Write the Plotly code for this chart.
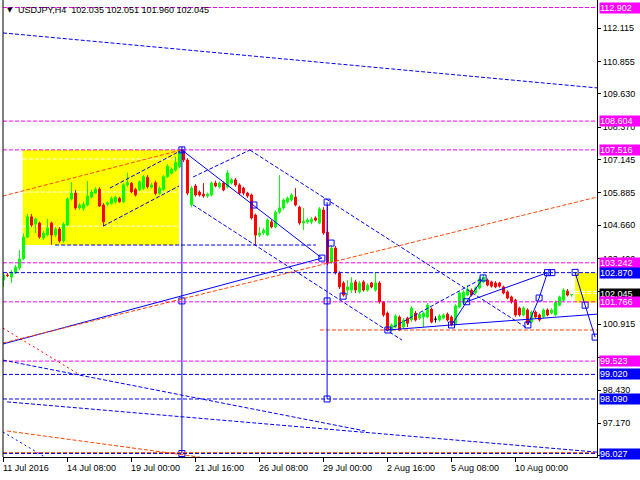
import plotly.graph_objects as go

# USDJPY H4 bars, 11 Jul 2016 16:00 .. 12 Aug 2016 08:00 (server time)
bar_open = [
    102.59, 102.78, 102.70, 102.86, 103.05, 103.39, 104.22, 104.98, 104.71, 104.75,
    104.18, 104.30, 104.75, 104.29, 104.52, 104.07, 104.67, 105.66, 105.88, 105.32,
    105.30, 105.43, 105.73, 105.88, 106.03, 105.43, 105.46, 105.49, 105.55, 105.68,
    105.55, 106.19, 106.25, 106.02, 106.00, 106.06, 106.48, 106.10, 106.27, 105.87,
    106.02, 106.50, 106.63, 106.75, 106.88, 107.45, 107.13, 105.43, 106.15, 105.92,
    105.84, 105.77, 105.81, 106.26, 106.11, 106.26, 106.11, 106.26, 106.38, 106.19,
    106.07, 105.88, 105.81, 105.05, 104.29, 104.37, 104.29, 104.79, 104.60, 105.16,
    105.32, 105.54, 105.62, 105.73, 105.35, 104.75, 104.79, 104.79, 104.94, 104.75,
    105.24, 104.40, 103.27, 103.80, 102.86, 102.48, 102.21, 102.21, 102.52, 102.14,
    102.52, 102.21, 102.48, 102.21, 102.48, 101.76, 101.34, 100.70, 100.81, 101.19,
    100.81, 101.15, 101.08, 101.34, 101.15, 101.19, 101.19, 101.49, 101.11, 101.08,
    101.15, 101.30, 101.19, 100.93, 101.57, 101.72, 102.02, 102.21, 102.10, 102.29,
    102.52, 102.59, 102.52, 102.48, 102.48, 102.33, 102.14, 101.95, 101.83, 101.53,
    101.27, 101.46, 101.00, 101.38, 101.27, 101.19, 101.46, 101.34, 101.27, 101.64,
    101.83, 102.17, 102.035,
]
bar_high = [
    102.86, 102.86, 102.97, 103.16, 103.73, 104.35, 105.10, 105.09, 104.95, 104.80,
    104.45, 104.90, 104.80, 104.60, 104.60, 104.78, 105.72, 106.30, 106.00, 105.50,
    105.55, 106.34, 106.00, 106.10, 106.10, 105.50, 105.56, 105.75, 105.78, 105.74,
    106.25, 106.65, 106.30, 106.08, 106.36, 106.56, 106.56, 106.27, 106.35, 106.14,
    106.56, 106.97, 106.85, 107.26, 107.50, 107.516, 107.20, 106.15, 106.22, 105.98,
    106.26, 105.90, 106.32, 106.35, 106.32, 106.32, 106.75, 106.45, 106.45, 106.25,
    106.12, 105.93, 105.86, 105.10, 104.60, 104.55, 104.92, 104.86, 105.22, 106.56,
    105.68, 105.75, 105.88, 106.07, 105.40, 105.31, 104.95, 104.98, 105.00, 105.35,
    105.35, 105.43, 103.90, 103.88, 102.92, 102.55, 102.59, 102.70, 102.60, 102.55,
    102.58, 102.47, 102.52, 102.89, 102.55, 101.80, 101.40, 100.95, 101.30, 101.25,
    101.15, 101.20, 101.60, 101.42, 101.36, 101.40, 101.72, 101.55, 101.22, 101.30,
    101.33, 101.36, 101.25, 101.68, 102.17, 102.20, 102.40, 102.27, 102.35, 102.70,
    102.82, 102.65, 102.57, 102.55, 102.52, 102.38, 102.20, 102.00, 101.88, 101.58,
    101.60, 101.52, 101.44, 101.44, 101.32, 101.52, 101.52, 101.52, 101.82, 102.00,
    102.28, 102.25, 102.051,
]
bar_low = [
    102.33, 102.70, 102.48, 102.82, 102.97, 103.35, 104.18, 104.60, 104.37, 104.15,
    104.10, 104.25, 103.92, 104.22, 104.00, 104.00, 104.63, 105.60, 105.25, 105.25,
    105.22, 105.38, 105.70, 105.85, 105.35, 104.63, 105.38, 105.44, 105.48, 105.52,
    105.50, 106.12, 105.88, 105.75, 105.95, 106.00, 106.05, 106.05, 105.80, 105.82,
    105.97, 106.45, 106.58, 106.70, 106.82, 107.05, 105.80, 105.35, 105.75, 105.75,
    105.70, 105.70, 105.75, 106.10, 106.05, 105.95, 106.05, 106.20, 106.12, 105.80,
    105.80, 105.70, 104.88, 103.92, 104.22, 104.30, 104.25, 104.55, 104.55, 105.10,
    105.25, 105.48, 105.56, 105.38, 104.68, 104.48, 104.72, 104.70, 104.80, 104.70,
    104.30, 103.15, 103.20, 102.80, 102.25, 101.96, 102.02, 102.10, 102.10, 102.08,
    102.15, 102.15, 102.28, 102.15, 101.70, 101.20, 100.65, 100.65, 100.77, 100.66,
    100.75, 100.81, 101.00, 101.02, 101.08, 100.81, 101.15, 100.95, 100.98, 101.02,
    101.10, 101.02, 100.84, 100.88, 101.52, 101.68, 101.98, 101.97, 102.05, 102.24,
    102.47, 102.35, 102.30, 102.28, 102.30, 102.05, 101.86, 101.70, 101.20, 101.21,
    101.22, 100.89, 100.95, 101.14, 101.02, 101.14, 101.22, 101.29, 101.22, 101.60,
    101.78, 101.97, 101.960,
]
bar_close = [
    102.78, 102.76, 102.86, 103.08, 103.39, 104.22, 104.98, 104.67, 104.90, 104.22,
    104.37, 104.56, 104.29, 104.52, 104.07, 104.71, 105.66, 105.88, 105.32, 105.43,
    105.46, 105.77, 105.92, 106.03, 105.39, 104.79, 105.51, 105.68, 105.72, 105.55,
    106.19, 106.27, 105.93, 105.81, 106.31, 106.50, 106.12, 106.19, 105.87, 106.06,
    106.50, 106.90, 106.78, 107.03, 107.45, 107.13, 105.88, 106.07, 105.81, 105.81,
    105.77, 105.84, 106.26, 106.15, 106.26, 106.00, 106.64, 106.38, 106.19, 105.88,
    105.88, 105.77, 104.94, 104.29, 104.37, 104.48, 104.86, 104.60, 105.16, 105.32,
    105.62, 105.69, 105.81, 105.43, 104.75, 104.82, 104.86, 104.90, 104.86, 105.28,
    104.37, 103.23, 103.80, 102.86, 102.33, 102.02, 102.33, 102.48, 102.21, 102.48,
    102.21, 102.40, 102.33, 102.48, 101.76, 101.27, 100.70, 100.89, 101.23, 100.70,
    101.08, 100.96, 101.53, 101.08, 101.30, 101.34, 101.64, 101.00, 101.11, 101.23,
    101.27, 101.08, 100.89, 101.61, 102.10, 102.14, 102.25, 102.02, 102.29, 102.63,
    102.70, 102.40, 102.36, 102.33, 102.36, 102.10, 101.91, 101.76, 101.27, 101.27,
    101.53, 100.96, 101.38, 101.19, 101.08, 101.46, 101.27, 101.46, 101.76, 101.95,
    102.21, 102.02, 102.045,
]
bar_index = list(range(len(bar_open)))

# time scale labels (bar number -> label)
time_tick_bars = [0, 16, 32, 48, 64, 80, 96, 112, 128]
time_tick_text = ["11 Jul 2016", "14 Jul 08:00", "19 Jul 00:00", "21 Jul 16:00",
                  "26 Jul 08:00", "29 Jul 00:00", "2 Aug 16:00", "5 Aug 08:00",
                  "10 Aug 00:00"]

# price scale; the marks under the level boxes keep only their tick
price_ticks = [112.115, 110.855, 109.630, 108.370, 107.145, 105.885, 104.660,
               103.400, 102.175, 100.915, 99.655, 98.430, 97.170, 95.945]
price_tick_covered = [102.175, 99.655, 95.945]
price_min, price_max = 95.895, 113.186
bar_min, bar_max = -0.125, 148.375

# horizontal levels
magenta_levels = [112.902, 108.604, 107.516, 103.242, 101.766, 99.523]
blue_levels = [102.870, 99.020, 98.090, 96.027]
orange_levels = [96.06]
last_price = 102.045

# partial horizontal levels: (bar from, bar to, price)
blue_partial_levels = [(12.9, 78.1, 103.915)]
orange_partial_levels = [(79.1, bar_max, 100.70)]

# rectangles: (bar from, bar to, price low, price high)
zones = [(4.8, 43.9, 103.915, 107.516), (142.9, 150.0, 101.73, 102.870)]
zone_levels = [(4.8, 43.9, 107.17), (4.8, 43.9, 105.92), (4.8, 43.9, 104.63),
               (142.9, 150.0, 102.16), (142.9, 150.0, 102.08)]

# trend lines: (bar0, price0, bar1, price1)
blue_solid_lines = [
    (-0.125, 100.17, 79.6, 103.42),
    (44.6, 107.51, 79.6, 103.42),
    (44.6, 107.516, 44.6, 96.027),
    (80.9, 105.54, 80.9, 98.09),
    (96.1, 100.70, 112.0, 100.89),
    (112.0, 100.89, 148.375, 101.30),
    (112.0, 100.89, 115.8, 101.77),
    (115.8, 101.77, 119.9, 102.67),
    (115.8, 101.77, 136.0, 102.87),
    (131.1, 100.89, 133.9, 101.91),
    (133.9, 101.91, 136.0, 102.87),
    (142.9, 102.88, 145.4, 101.64),
    (145.4, 101.64, 147.9, 100.43),
]
blue_dashed_lines = [
    (-0.125, 111.94, 148.375, 109.86),
    (-0.125, 99.56, 90.4, 96.88),
    (0.9, 97.98, 148.375, 96.08),
    (26.6, 106.07, 44.6, 107.51),
    (24.9, 104.63, 43.9, 106.15),
    (47.4, 105.43, 99.6, 100.32),
    (61.6, 107.51, 130.9, 100.77),
    (47.4, 106.49, 61.6, 107.51),
    (96.1, 100.70, 119.9, 102.67),
]
blue_dotted_lines = [(-0.125, 96.84, 10.4, 95.89)]
orange_dashed_lines = [
    (-0.125, 100.21, 148.375, 105.73),
    (-0.125, 105.77, 44.4, 107.51),
    (0.9, 96.88, 49.1, 95.89),
]
red_dotted_lines = [(-0.125, 100.77, 19.1, 99.00)]

# object anchor points
anchor_bars = [44.6, 44.6, 80.9, 80.9, 80.9, 79.6, 84.9, 81.9, 62.6,
               96.1, 112.0, 115.8, 119.9, 136.0, 137.1, 133.9, 131.1,
               142.9, 145.4, 147.9]
anchor_prices = [101.80, 96.027, 105.54, 101.80, 98.09, 103.42, 101.98, 103.99, 105.43,
                 100.70, 100.89, 101.77, 102.67, 102.87, 102.87, 101.91, 100.89,
                 102.88, 101.64, 100.43]

BLUE = "#0000FF"
MAGENTA = "#FF00FF"
ORANGE = "#FF4500"
RED = "#FF0000"
GREEN = "#00FF00"
FONT = "Liberation Sans"
DASH = "4px,2px"
DOT = "2px,3px"

fig = go.Figure()

# regular candles, and doji bars (open == close) drawn in black
is_doji = [o == c and i < len(bar_open) - 1 for i, (o, c) in enumerate(zip(bar_open, bar_close))]

def pick(values, keep):
    return [v if k else None for v, k in zip(values, keep)]

normal = [not d for d in is_doji]
fig.add_trace(go.Candlestick(
    x=bar_index, open=pick(bar_open, normal), high=pick(bar_high, normal),
    low=pick(bar_low, normal), close=pick(bar_close, normal),
    increasing=dict(line=dict(color=GREEN, width=1), fillcolor=GREEN),
    decreasing=dict(line=dict(color=RED, width=1), fillcolor=RED),
    whiskerwidth=0, showlegend=False, hoverinfo="skip",
))
fig.add_trace(go.Candlestick(
    x=bar_index, open=pick(bar_open, is_doji), high=pick(bar_high, is_doji),
    low=pick(bar_low, is_doji), close=pick(bar_close, is_doji),
    increasing=dict(line=dict(color="#000000", width=1), fillcolor="#000000"),
    decreasing=dict(line=dict(color="#000000", width=1), fillcolor="#000000"),
    whiskerwidth=0, showlegend=False, hoverinfo="skip",
))

fig.add_trace(go.Scatter(
    x=anchor_bars, y=anchor_prices, mode="markers",
    marker=dict(symbol="square-open", size=6, color=BLUE, line=dict(width=1, color=BLUE)),
    showlegend=False, hoverinfo="skip",
))
fig.add_trace(go.Scatter(
    x=[44.6], y=[107.516], mode="markers",
    marker=dict(symbol="square-cross-open", size=6, color=BLUE, line=dict(width=1, color=BLUE)),
    showlegend=False, hoverinfo="skip",
))

shapes = []
for x0, x1, y0, y1 in zones:
    shapes.append(dict(type="rect", xref="x", yref="y", x0=x0, x1=x1, y0=y0, y1=y1,
                       fillcolor="#FFFF00", line=dict(width=0), layer="below"))
for x0, x1, y in zone_levels:
    shapes.append(dict(type="line", xref="x", yref="y", x0=x0, x1=x1, y0=y, y1=y,
                       line=dict(color="#FFFFFF", width=1, dash=DASH), layer="below"))

def hline(y, color, dash=DASH):
    return dict(type="line", xref="paper", yref="y", x0=0, x1=1, y0=y, y1=y,
                line=dict(color=color, width=1, dash=dash))

for y in magenta_levels:
    shapes.append(hline(y, MAGENTA))
for y in blue_levels:
    shapes.append(hline(y, BLUE))
for y in orange_levels:
    shapes.append(hline(y, ORANGE))
for x0, x1, y in blue_partial_levels:
    shapes.append(dict(type="line", xref="x", yref="y", x0=x0, x1=x1, y0=y, y1=y,
                       line=dict(color=BLUE, width=1, dash=DASH)))
for x0, x1, y in orange_partial_levels:
    shapes.append(dict(type="line", xref="x", yref="y", x0=x0, x1=x1, y0=y, y1=y,
                       line=dict(color=ORANGE, width=1, dash=DASH)))

def seg(line, color, dash):
    x0, y0, x1, y1 = line
    return dict(type="line", xref="x", yref="y", x0=x0, y0=y0, x1=x1, y1=y1,
                line=dict(color=color, width=1, dash=dash))

for l in blue_solid_lines:
    shapes.append(seg(l, BLUE, "solid"))
for l in blue_dashed_lines:
    shapes.append(seg(l, BLUE, DASH))
for l in blue_dotted_lines:
    shapes.append(seg(l, BLUE, DOT))
for l in orange_dashed_lines:
    shapes.append(seg(l, ORANGE, DASH))
for l in red_dotted_lines:
    shapes.append(seg(l, RED, DOT))

# chart frame, left edge
shapes.append(dict(type="line", xref="paper", yref="paper", x0=0, x1=0, y0=0, y1=1,
                   line=dict(color="#000000", width=1)))

annotations = []
# price labels on the scale
level_boxes = ([(y, MAGENTA) for y in magenta_levels] +
               [(y, BLUE) for y in blue_levels] +
               [(last_price, "#000000")])
level_boxes.sort(key=lambda t: t[0] == 101.766)
for y, col in level_boxes:
    annotations.append(dict(
        xref="paper", yref="y", x=1, y=y, xanchor="left", yanchor="middle",
        xshift=2, text=f"{y:.3f}", showarrow=False, align="left",
        font=dict(family=FONT, size=9, color="#FFFFFF"),
        bgcolor=col, borderpad=0, width=41, height=10,
    ))

# time labels
for b, t in zip(time_tick_bars, time_tick_text):
    annotations.append(dict(
        xref="x", yref="paper", x=b, y=-0.024, xanchor="left", yanchor="middle",
        xshift=-3, text=t, showarrow=False,
        font=dict(family=FONT, size=9, color="#000000"),
    ))

# symbol header
annotations.append(dict(
    xref="paper", yref="paper", x=0, y=0.978, xanchor="left", yanchor="middle",
    xshift=2, text="▼", showarrow=False,
    font=dict(family="DejaVu Sans", size=7, color="#000000"),
))
annotations.append(dict(
    xref="paper", yref="paper", x=0, y=0.978, xanchor="left", yanchor="middle",
    xshift=13, text=f"USDJPY,H4  {bar_open[-1]:.3f} {bar_high[-1]:.3f} {bar_low[-1]:.3f} {bar_close[-1]:.3f}",
    showarrow=False, font=dict(family=FONT, size=9, color="#000000"),
))

fig.update_layout(
    width=640, height=480,
    margin=dict(l=3, r=43, t=0, b=23, pad=0),
    paper_bgcolor="#FFFFFF", plot_bgcolor="#FFFFFF",
    showlegend=False,
    shapes=shapes, annotations=annotations,
    xaxis=dict(
        range=[bar_min, bar_max], rangeslider=dict(visible=False),
        showgrid=False, zeroline=False, showline=True, linecolor="#000000", linewidth=1,
        tickmode="array", tickvals=time_tick_bars, ticktext=[""] * len(time_tick_bars),
        ticks="outside", ticklen=4, tickcolor="#000000", fixedrange=True,
    ),
    yaxis=dict(
        range=[price_min, price_max], side="right",
        showgrid=False, zeroline=False, showline=True, linecolor="#000000", linewidth=1,
        tickmode="array", tickvals=price_ticks,
        ticktext=["" if v in price_tick_covered else f"{v:.3f}" for v in price_ticks],
        ticks="outside", ticklen=3, tickcolor="#000000",
        tickfont=dict(family=FONT, size=9, color="#000000"), fixedrange=True,
    ),
)

fig.write_html("out.html")
